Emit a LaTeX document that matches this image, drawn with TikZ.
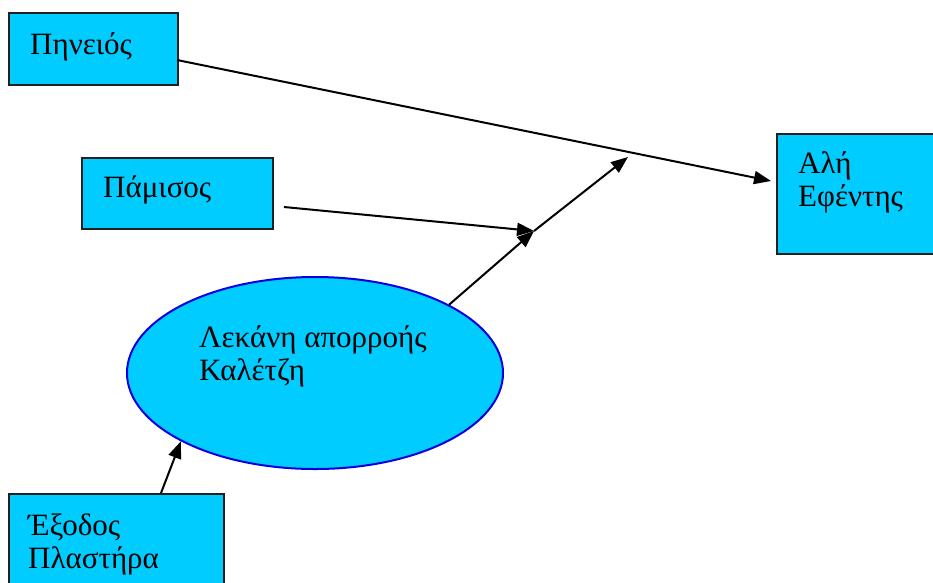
\documentclass[tikz,border=0pt]{standalone}
\usepackage{fontspec}
\setmainfont{Liberation Serif}
\usetikzlibrary{arrows.meta,shapes.geometric}
\definecolor{boxfill}{HTML}{00CCFF}
\definecolor{boxline}{HTML}{202020}
\definecolor{ellline}{HTML}{0000E0}
\begin{document}
\begin{tikzpicture}[x=1pt,y=-1pt,
  box/.style={draw=boxline,line width=2pt,fill=boxfill,rectangle,anchor=north west,inner sep=0pt},
  txt/.style={anchor=base west,inner sep=0pt,align=left,font=\fontsize{31}{33}\selectfont},
  conn/.style={draw=black,line width=2pt,-{Triangle[length=17pt,width=13pt]}},
  plain/.style={draw=black,line width=2pt}]
\useasboundingbox (0,0) rectangle (933,582);
% boxes
\node[box,minimum width=169pt,minimum height=72pt] (pin) at (8,12) {};
\node[txt] (pint) at (30,54) {Πηνειός};
\node[box,minimum width=191pt,minimum height=71pt] (pam) at (81,157) {};
\node[txt] (pamt) at (103,197) {Πάμισος};
\node[box,minimum width=157pt,minimum height=120pt] (ali) at (776,133) {};
\node[txt] (alit) at (798,206) {Αλή\\Εφέντης};
\node[box,minimum width=215pt,minimum height=120pt] (exo) at (8,493) {};
\node[txt] (exot) at (28,568) {Έξοδος\\Πλαστήρα};
% ellipse
\node[ellipse,draw=ellline,line width=2pt,fill=boxfill,minimum width=376pt,minimum height=192pt,inner sep=0pt] (ell) at (315,373) {};
\node[txt] (ellt) at (199,380) {Λεκάνη απορροής\\Καλέτζη};
% coordinates
\coordinate (pinout) at (177,60);
\coordinate (aliin) at (771,181);
\coordinate (pamout) at (284,207);
\coordinate (junc) at (534,231);
\coordinate (tip) at (628,157);
\coordinate (exoout) at (161,493);
% connectors
\draw[conn] (pinout) -- (aliin);
\draw[conn] (pamout) -- (junc);
\draw[conn] (ell.27) -- (junc);
\draw[conn] (junc) -- (tip);
\draw[conn] (exoout) -- (ell.207);
\end{tikzpicture}
\end{document}
